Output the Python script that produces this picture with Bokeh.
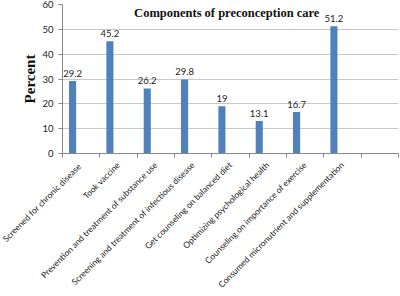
import math
from bokeh.plotting import figure
from bokeh.models import ColumnDataSource, FixedTicker, Label, Range1d
from bokeh.core.properties import value
from bokeh.embed import file_html
from bokeh.resources import INLINE

categories = [
    "Screened  for chronic disease",
    "Took vaccine",
    "Prevention and treatment of substance use",
    "Screening and treatment of infectious disease",
    "Get counseling on balanced diet",
    "Optimizing psychological health",
    "Counseling on importance of exercise",
    "Consumed micronutrient and supplementation",
    "",
]
percent = [29.2, 45.2, 26.2, 29.8, 19, 13.1, 16.7, 51.2]
y_ticks = [0, 10, 20, 30, 40, 50, 60]
title_text = "Components of preconception care"
y_label = "Percent"

idx = list(range(len(percent)))
src = ColumnDataSource(dict(
    x=[i - 0.23 for i in idx],
    top=percent,
    lab=[("%g" % v) for v in percent],
))

p = figure(width=400, height=296, output_backend="svg", toolbar_location=None,
           x_range=Range1d(-0.5, len(categories) - 0.5), y_range=Range1d(0, 60),
           min_border_left=62, min_border_right=2, min_border_top=4, min_border_bottom=142)
p.outline_line_color = None
p.background_fill_color = "white"
p.border_fill_color = "white"

p.vbar(x="x", top="top", width=0.19, source=src, fill_color="#4f81bd", line_color=None)
p.text(x="x", y="top", text="lab", source=src, text_align="center", text_baseline="bottom",
       y_offset=-4, text_font=value("Lato"), text_font_size="9.5px", text_color="#222222")

p.add_layout(Label(x=3.9, y=56.6, text=title_text, text_align="center", text_baseline="middle",
                   text_font="Liberation Serif", text_font_style="bold", text_font_size="12.5px",
                   text_color="#111111"))

# x axis
xt = FixedTicker(ticks=list(range(len(categories))),
                 minor_ticks=[i - 0.5 for i in range(len(categories) + 1)])
p.xaxis.ticker = xt
p.xaxis.major_label_overrides = {i: c for i, c in enumerate(categories)}
p.xaxis.major_label_orientation = math.pi / 4
p.xaxis.major_tick_line_color = None
p.xaxis.minor_tick_out = 4
p.xaxis.minor_tick_in = 0
p.xaxis.minor_tick_line_color = "#888888"
p.xaxis.axis_line_color = "#888888"
p.xaxis.major_label_text_font = "Lato"
p.xaxis.major_label_text_font_size = "8.5px"
p.xaxis.major_label_text_color = "#222222"
p.xaxis.major_label_standoff = 4

# y axis
p.yaxis.ticker = FixedTicker(ticks=y_ticks)
p.yaxis.minor_tick_line_color = None
p.yaxis.major_tick_out = 4
p.yaxis.major_tick_in = 0
p.yaxis.major_tick_line_color = "#888888"
p.yaxis.axis_line_color = "#888888"
p.yaxis.major_label_text_font = "Lato"
p.yaxis.major_label_text_font_size = "9.5px"
p.yaxis.major_label_text_color = "#222222"
p.yaxis.major_label_standoff = 5
p.yaxis.axis_label = y_label
p.yaxis.axis_label_text_font = "Liberation Serif"
p.yaxis.axis_label_text_font_style = "bold"
p.yaxis.axis_label_text_font_size = "15px"
p.yaxis.axis_label_text_color = "#111111"
p.yaxis.axis_label_standoff = 1

p.xgrid.grid_line_color = None
p.ygrid.ticker = FixedTicker(ticks=y_ticks)
p.ygrid.grid_line_color = "#c8c8c8"

open("out.html", "w").write(file_html(p, INLINE))
